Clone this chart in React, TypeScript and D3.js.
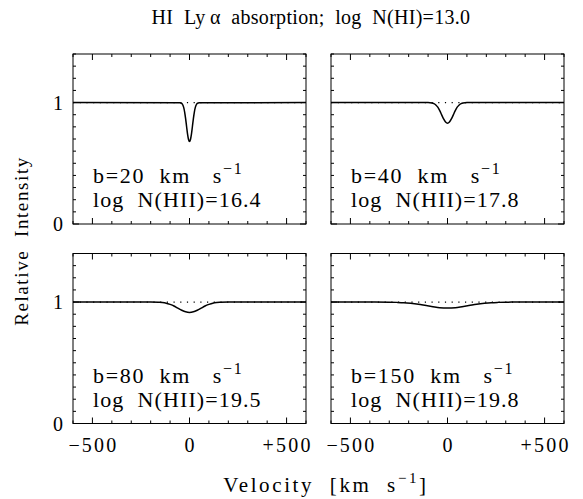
import React from 'react';
import * as d3 from 'd3';

// Line parameters and column densities (one per panel)
const dopplerB = ['20', '40', '80', '150'];
const logNHII = ['16.4', '17.8', '19.5', '19.8'];

// Profiles: velocity (km/s) and relative intensity
const vel20 = [-600, -50, -40, -35, -30, -25, -20, -15, -10, -5, 0, 5, 10, 15, 20, 25, 30, 35, 40, 50, 600];
const int20 = [1, 0.999, 0.993, 0.982, 0.96, 0.922, 0.868, 0.803, 0.74, 0.696, 0.68, 0.696, 0.74, 0.803, 0.868, 0.922, 0.96, 0.982, 0.993, 0.999, 1];

const vel40 = [-600, -100, -80, -70, -60, -50, -40, -30, -20, -10, 0, 10, 20, 30, 40, 50, 60, 70, 80, 100, 600];
const int40 = [1, 1, 0.997, 0.991, 0.98, 0.962, 0.934, 0.899, 0.865, 0.84, 0.83, 0.84, 0.865, 0.899, 0.934, 0.962, 0.98, 0.991, 0.997, 1, 1];

const vel80 = [-600, -200, -160, -140, -120, -100, -80, -60, -40, -20, 0, 20, 40, 60, 80, 100, 120, 140, 160, 200, 600];
const int80 = [1, 1, 0.998, 0.996, 0.991, 0.981, 0.968, 0.95, 0.933, 0.92, 0.915, 0.92, 0.933, 0.95, 0.968, 0.981, 0.991, 0.996, 0.998, 1, 1];

const vel150 = [-600, -375, -300, -260, -225, -190, -150, -110, -75, -40, 0, 40, 75, 110, 150, 190, 225, 260, 300, 375, 600];
const int150 = [1, 1, 0.999, 0.9975, 0.995, 0.99, 0.982, 0.971, 0.962, 0.954, 0.951, 0.954, 0.962, 0.971, 0.982, 0.99, 0.995, 0.9975, 0.999, 1, 1];

const velocities = [vel20, vel40, vel80, vel150];
const intensities = [int20, int40, int80, int150];

const xTickValues = [-500, 0, 500];
const xTickLabels = ['\u2212500', '0', '+500'];
const yTickValues = [0, 1];
const yTickLabels = ['0', '1'];

const FONT = '"Liberation Serif", "DejaVu Serif", serif';

const colX = [73, 331];
const rowY = [54, 253.5];
const PW = 233;
const PH = 170;

const x = d3.scaleLinear().domain([-600, 600]).range([0, PW]);
const y = d3.scaleLinear().domain([0, 1.4]).range([PH, 0]);

const line = d3.line<[number, number]>()
  .curve(d3.curveMonotoneX)
  .x(d => x(d[0]))
  .y(d => y(d[1]));

function Panel({ idx }: { idx: number }) {
  const col = idx % 2;
  const row = Math.floor(idx / 2);
  const pts: [number, number][] = velocities[idx].map((v, i) => [v, intensities[idx][i]]);
  const xMinor = d3.range(-600, 601, 100);
  const yMinor = d3.range(0, 15).map(i => i / 10);
  const tick = (isMajor: boolean) => (isMajor ? 6 : 3);

  return (
    <g transform={`translate(${colX[col]},${rowY[row]})`}>
      {/* dotted continuum */}
      <line x1={0} x2={PW} y1={y(1)} y2={y(1)} stroke="#000" strokeWidth={1.2} strokeDasharray="1.2 5.5" />
      <path d={line(pts) || ''} fill="none" stroke="#000" strokeWidth={1.5} />

      {/* box ticks */}
      {xMinor.map(v => {
        const len = tick(xTickValues.includes(v));
        return (
          <g key={'x' + v}>
            <line x1={x(v)} x2={x(v)} y1={PH} y2={PH - len} stroke="#000" />
            <line x1={x(v)} x2={x(v)} y1={0} y2={len} stroke="#000" />
          </g>
        );
      })}
      {yMinor.map(v => {
        const len = tick(yTickValues.includes(v));
        return (
          <g key={'y' + v}>
            <line x1={0} x2={len} y1={y(v)} y2={y(v)} stroke="#000" />
            <line x1={PW} x2={PW - len} y1={y(v)} y2={y(v)} stroke="#000" />
          </g>
        );
      })}
      <rect x={0} y={0} width={PW} height={PH} fill="none" stroke="#000" strokeWidth={1} />

      {col === 0 && yTickValues.map((v, i) => (
        <text key={'yl' + v} x={-10} y={y(v)} dy="0.35em" textAnchor="end" fontSize={20} fontFamily={FONT}>{yTickLabels[i]}</text>
      ))}
      {row === 1 && xTickValues.map((v, i) => (
        <text key={'xl' + v} x={x(v) + 1} y={PH + 28} textAnchor="middle" fontSize={20} fontFamily={FONT} letterSpacing={2.2}>{xTickLabels[i]}</text>
      ))}

      <text x={20} y={PH - 41} fontSize={22} fontFamily={FONT} style={{ whiteSpace: 'pre' }} letterSpacing={1.7}>
        {`b=${dopplerB[idx]}  km   s`}
        <tspan fontSize={16} dy={-9}>{'\u22121'}</tspan>
      </text>
      <text x={20} y={PH - 17} fontSize={22} fontFamily={FONT} style={{ whiteSpace: 'pre' }} letterSpacing={1.1}>
        {`log  N(HII)=${logNHII[idx]}`}
      </text>
    </g>
  );
}

export default function App() {
  return (
    <svg width={583} height={499} style={{ display: 'block', position: 'absolute', left: 0, top: 0, background: '#fff' }}>
      <rect width={583} height={499} fill="#fff" />
      <text x={311} y={24} textAnchor="middle" fontSize={20} fontFamily={FONT} style={{ whiteSpace: 'pre' }} letterSpacing={0.3}>
        {'HI  Ly\u2009\u03B1  absorption;  log  N(HI)=13.0'}
      </text>
      {[0, 1, 2, 3].map(i => <Panel key={i} idx={i} />)}
      <text transform="translate(28,241) rotate(-90)" textAnchor="middle" fontSize={19} fontFamily={FONT} style={{ whiteSpace: 'pre' }} letterSpacing={1.6}>
        Relative  Intensity
      </text>
      <text x={326} y={492} textAnchor="middle" fontSize={21} fontFamily={FONT} style={{ whiteSpace: 'pre' }} letterSpacing={2.6}>
        {'Velocity  [km  s'}
        <tspan fontSize={15} dy={-9}>{'\u22121'}</tspan>
        <tspan dy={9}>{']'}</tspan>
      </text>
    </svg>
  );
}
